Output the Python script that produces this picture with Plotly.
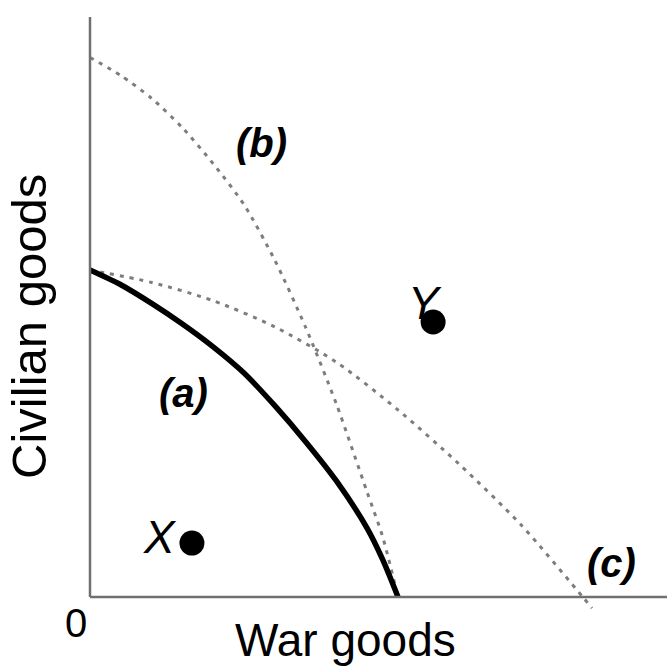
import plotly.graph_objects as go

# Curve (a): original production possibilities frontier (thick solid)
a_war = [0, 1, 2, 3, 4, 5, 6, 7, 8, 9, 9.5, 10]
a_civ = [10.0, 9.55, 8.98, 8.35, 7.65, 6.85, 5.85, 4.75, 3.55, 2.1, 1.15, 0]

# Curve (b): dotted, higher civilian intercept
b_war = [0, 1, 2, 3, 4, 5, 6, 7, 8, 9, 9.5, 10]
b_civ = [16.5, 15.95, 15.25, 14.35, 13.25, 12.0, 10.3, 8.25, 5.9, 3.2, 1.85, 0]

# Curve (c): dotted, higher war-goods intercept
c_war = [0, 2, 4, 6, 8, 10, 12, 14, 16, 16.3]
c_civ = [10.0, 9.62, 9.06, 8.26, 7.18, 5.72, 4.05, 2.2, 0, -0.34]

# Points
point_names = ["X", "Y"]
point_war = [3.31, 11.14]
point_civ = [1.65, 8.41]

# Curve labels
curve_labels = ["(a)", "(b)", "(c)"]
label_war = [3.02, 5.58, 16.92]
label_civ = [6.24, 13.88, 1.04]

fig = go.Figure()

dot_style = dict(color="#7d7d7d", width=3, dash="4px,6px")

fig.add_trace(go.Scatter(x=b_war, y=b_civ, mode="lines", line=dict(shape="spline", smoothing=0.7, **dot_style), hoverinfo="skip"))
fig.add_trace(go.Scatter(x=c_war, y=c_civ, mode="lines", line=dict(shape="spline", smoothing=0.8, **dot_style), hoverinfo="skip"))
fig.add_trace(go.Scatter(x=a_war, y=a_civ, mode="lines", line=dict(shape="spline", smoothing=0.8, color="black", width=5.5), hoverinfo="skip"))
fig.add_trace(go.Scatter(x=point_war, y=point_civ, mode="markers", marker=dict(size=25, color="black"), hoverinfo="skip"))

# axis lines
fig.add_shape(type="line", x0=0, y0=0, x1=0, y1=17.74, line=dict(color="#707070", width=2.5))
fig.add_shape(type="line", x0=0, y0=0, x1=18.8, y1=0, line=dict(color="#707070", width=2.5))

for t, x, y in zip(curve_labels, label_war, label_civ):
    fig.add_annotation(x=x, y=y, text="<b><i>" + t + "</i></b>", showarrow=False,
                       font=dict(family="Liberation Sans, Arial", size=40, color="black"),
                       xanchor="center", yanchor="middle")

pt_text_off = [(-1.04, 0.18), (-0.26, 0.58)]
for n, x, y, (dx, dy) in zip(point_names, point_war, point_civ, pt_text_off):
    fig.add_annotation(x=x + dx, y=y + dy, text="<i>" + n + "</i>", showarrow=False,
                       font=dict(family="Liberation Sans, Arial", size=46, color="black"),
                       xanchor="center", yanchor="middle")

fig.add_annotation(x=-0.45, y=-0.80, text="0", showarrow=False,
                   font=dict(family="Liberation Sans, Arial", size=40, color="black"),
                   xanchor="center", yanchor="middle")
fig.add_annotation(x=8.28, y=-1.31, text="War goods", showarrow=False,
                   font=dict(family="Liberation Sans, Arial", size=46, color="black"),
                   xanchor="center", yanchor="middle")
fig.add_annotation(x=-1.98, y=8.26, text="Civilian goods", showarrow=False, textangle=-90,
                   font=dict(family="Liberation Sans, Arial", size=49, color="black"),
                   xanchor="center", yanchor="middle")

fig.update_layout(
    width=667, height=671,
    margin=dict(l=0, r=0, t=0, b=0),
    paper_bgcolor="white", plot_bgcolor="white",
    showlegend=False,
    xaxis=dict(range=[-2.922, 18.734], visible=False, fixedrange=True),
    yaxis=dict(range=[-2.263, 18.257], visible=False, fixedrange=True),
)

fig.write_html("out.html", config={"displayModeBar": False},
               post_script="document.body.style.margin='0';document.body.style.overflow='hidden';")
